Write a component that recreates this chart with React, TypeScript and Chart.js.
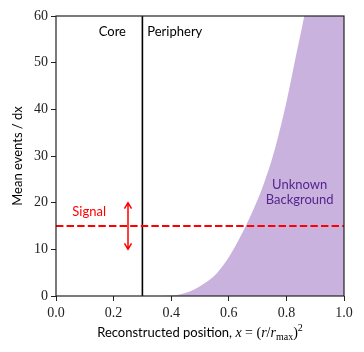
import React, { useEffect, useRef } from "react";
import { Chart, registerables } from "chart.js";

Chart.register(...registerables);

// Background curve (last points continue past the top edge)
const bgX = [0.37, 0.40, 0.44, 0.48, 0.52, 0.56, 0.60, 0.64, 0.68, 0.72, 0.76, 0.80, 0.83, 0.862, 0.9, 1.0];
const bgY = [0, 0.1, 0.5, 1.4, 2.9, 5.0, 8.3, 12.7, 17.8, 23.8, 31.5, 41.5, 50.5, 60, 73, 110];
const signalLevel = 15;
const coreBoundary = 0.3;
const arrowX = 0.25;
const arrowRange = [10, 20];
const xTicks = [0, 0.2, 0.4, 0.6, 0.8, 1.0];
const yTicks = [0, 10, 20, 30, 40, 50, 60];

const SANS = "Lato, 'Open Sans', sans-serif";
const SERIF = "'Liberation Serif', 'DejaVu Serif', serif";

const annotPlugin = {
  id: "annot",
  afterDraw(chart: any) {
    const ctx = chart.ctx as CanvasRenderingContext2D;
    const xs = chart.scales.x;
    const ys = chart.scales.y;
    const ca = chart.chartArea;
    ctx.save();
    // frame
    ctx.strokeStyle = "#222";
    ctx.lineWidth = 1.2;
    ctx.strokeRect(ca.left, ca.top, ca.right - ca.left, ca.bottom - ca.top);

    // arrow
    const ax = xs.getPixelForValue(arrowX);
    const ay1 = ys.getPixelForValue(arrowRange[0]);
    const ay2 = ys.getPixelForValue(arrowRange[1]);
    ctx.strokeStyle = "#ff0000";
    ctx.lineWidth = 1.5;
    ctx.beginPath();
    ctx.moveTo(ax, ay1);
    ctx.lineTo(ax, ay2);
    ctx.moveTo(ax - 3.5, ay2 + 6);
    ctx.lineTo(ax, ay2);
    ctx.lineTo(ax + 3.5, ay2 + 6);
    ctx.moveTo(ax - 3.5, ay1 - 6);
    ctx.lineTo(ax, ay1);
    ctx.lineTo(ax + 3.5, ay1 - 6);
    ctx.stroke();

    // texts
    ctx.textBaseline = "middle";
    ctx.font = `13px ${SANS}`;
    ctx.fillStyle = "#ff0000";
    ctx.textAlign = "center";
    ctx.fillText("Signal", xs.getPixelForValue(0.115), ys.getPixelForValue(18));

    ctx.fillStyle = "#000";
    ctx.textAlign = "right";
    ctx.fillText("Core", xs.getPixelForValue(0.243), ys.getPixelForValue(56.6));
    ctx.textAlign = "left";
    ctx.fillText("Periphery", xs.getPixelForValue(0.317), ys.getPixelForValue(56.6));

    ctx.fillStyle = "#56248f";
    ctx.textAlign = "center";
    const bx = xs.getPixelForValue(0.846);
    ctx.fillText("Unknown", bx, 185);
    ctx.fillText("Background", bx, 199.5);

    // y title
    ctx.fillStyle = "#000";
    ctx.save();
    ctx.translate(18, (ca.top + ca.bottom) / 2);
    ctx.rotate(-Math.PI / 2);
    ctx.textAlign = "center";
    ctx.fillText("Mean events / dx", 0, 0);
    ctx.restore();

    // x title with math
    type Piece = { t: string; f: string; dy: number };
    const pieces: Piece[] = [
      { t: "Reconstructed position, ", f: `13px ${SANS}`, dy: 0 },
      { t: "x", f: `italic 14px ${SERIF}`, dy: 0 },
      { t: " = (", f: `14px ${SERIF}`, dy: 0 },
      { t: "r", f: `italic 14px ${SERIF}`, dy: 0 },
      { t: "/", f: `14px ${SERIF}`, dy: 0 },
      { t: "r", f: `italic 14px ${SERIF}`, dy: 0 },
      { t: "max", f: `10px ${SERIF}`, dy: 3 },
      { t: ")", f: `14px ${SERIF}`, dy: 0 },
      { t: "2", f: `10px ${SERIF}`, dy: -6 },
    ];
    let total = 0;
    for (const p of pieces) {
      ctx.font = p.f;
      total += ctx.measureText(p.t).width;
    }
    let cx = (ca.left + ca.right) / 2 - total / 2;
    ctx.textAlign = "left";
    ctx.textBaseline = "alphabetic";
    for (const p of pieces) {
      ctx.font = p.f;
      ctx.fillText(p.t, cx, 337 + p.dy);
      cx += ctx.measureText(p.t).width;
    }
    ctx.restore();
  },
};

export default function App() {
  const ref = useRef<HTMLCanvasElement>(null);
  useEffect(() => {
    document.body.style.margin = "0";
    const bgData = bgX.map((x, i) => ({ x, y: bgY[i] }));
    const chart = new Chart(ref.current!, {
      type: "scatter",
      data: {
        datasets: [
          {
            data: [
              { x: 0, y: signalLevel },
              { x: 1, y: signalLevel },
            ],
            showLine: true,
            borderColor: "#ff0000",
            borderWidth: 2,
            borderDash: [7.4, 3.2],
            pointRadius: 0,
          },
          {
            data: [
              { x: coreBoundary, y: 0 },
              { x: coreBoundary, y: 60 },
            ],
            showLine: true,
            borderColor: "#000",
            borderWidth: 1.6,
            pointRadius: 0,
          },
          {
            data: bgData,
            showLine: true,
            fill: "origin",
            backgroundColor: "rgba(148,103,189,0.5)",
            borderWidth: 0,
            borderColor: "rgba(0,0,0,0)",
            pointRadius: 0,
            cubicInterpolationMode: "monotone",
          },
        ],
      },
      options: {
        animation: false,
        responsive: false,
        maintainAspectRatio: false,
        layout: { padding: { top: 16, right: 20, left: 0, bottom: 0 } },
        plugins: { legend: { display: false }, tooltip: { enabled: false } },
        scales: {
          x: {
            type: "linear",
            min: 0,
            max: 1,
            afterBuildTicks: (s: any) => {
              s.ticks = xTicks.map((v) => ({ value: v }));
            },
            afterFit: (s: any) => {
              s.height = 56;
            },
            ticks: {
              callback: (v: any) => Number(v).toFixed(1),
              color: "#222",
              font: { family: SERIF, size: 14 },
              padding: 4,
              maxRotation: 0,
            },
            grid: {
              drawOnChartArea: false,
              drawTicks: true,
              tickLength: 5,
              color: "#222",
              lineWidth: 1,
            },
            border: { display: false },
          },
          y: {
            type: "linear",
            min: 0,
            max: 60,
            afterBuildTicks: (s: any) => {
              s.ticks = yTicks.map((v) => ({ value: v }));
            },
            afterFit: (s: any) => {
              s.width = 56;
            },
            ticks: {
              color: "#222",
              font: { family: SERIF, size: 14 },
              padding: 3,
            },
            grid: {
              drawOnChartArea: false,
              drawTicks: true,
              tickLength: 5,
              color: "#222",
              lineWidth: 1,
            },
            border: { display: false },
          },
        },
      },
      plugins: [annotPlugin],
    } as any);
    return () => chart.destroy();
  }, []);
  return (
    <div style={{ position: "fixed", left: 0, top: 0, width: 364, height: 352, background: "#fff" }}>
      <canvas ref={ref} width={364} height={352} style={{ width: 364, height: 352 }} />
    </div>
  );
}
